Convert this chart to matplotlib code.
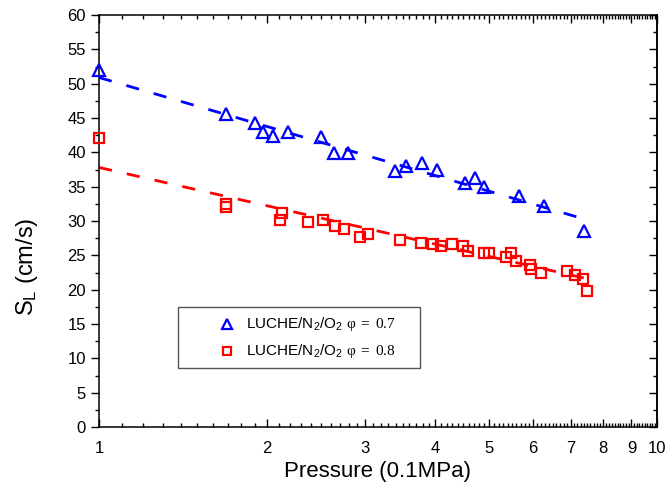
import numpy as np
import matplotlib
matplotlib.use("Agg")
import matplotlib.pyplot as plt
from matplotlib.patches import Rectangle
from matplotlib.ticker import FixedLocator, NullFormatter, MultipleLocator

# --- fonts ---
plt.rcParams['font.family'] = ['Liberation Sans', 'DejaVu Sans']
plt.rcParams['mathtext.fontset'] = 'custom'
plt.rcParams['mathtext.rm'] = 'Liberation Serif'
plt.rcParams['mathtext.it'] = 'Liberation Serif:italic'
plt.rcParams['mathtext.sf'] = 'Liberation Sans'
plt.rcParams['lines.scale_dashes'] = False

# --- data ---
p_07 = [1.0, 1.69, 1.90, 1.97, 2.05, 2.18, 2.50, 2.64, 2.79, 3.39,
        3.55, 3.79, 4.03, 4.53, 4.72, 4.90, 5.67, 6.28, 7.40]
sl_07 = [52.0, 45.6, 44.3, 43.0, 42.4, 42.9, 42.2, 39.9, 39.9, 37.3,
         38.0, 38.4, 37.5, 35.6, 36.2, 34.9, 33.7, 32.2, 28.6]

p_08 = [1.0, 1.69, 1.69, 2.11, 2.13, 2.37, 2.52, 2.65, 2.75, 2.94,
        3.04, 3.46, 3.77, 3.97, 4.10, 4.29, 4.50, 4.58, 4.90, 5.00,
        5.36, 5.47, 5.58, 5.92, 5.95, 6.19, 6.91, 7.13, 7.36, 7.48]
sl_08 = [42.1, 32.5, 32.1, 30.1, 31.2, 29.9, 30.2, 29.3, 28.8, 27.6,
         28.1, 27.2, 26.8, 26.6, 26.4, 26.6, 26.3, 25.7, 25.4, 25.4,
         24.8, 25.4, 24.2, 23.6, 23.0, 22.5, 22.7, 22.1, 21.6, 19.8]

# fitted lines (end points)
fit_p = [1.0, 7.4]
fit_07 = [50.9, 30.3]
fit_08 = [37.8, 21.7]

x_major = [1, 2, 3, 4, 5, 6, 7, 8, 9, 10]
labels = [r'LUCHE/N$_{\mathsf{2}}$/O$_{\mathsf{2}}$ $\mathrm{\varphi\ =\ 0.7}$',
          r'LUCHE/N$_{\mathsf{2}}$/O$_{\mathsf{2}}$ $\mathrm{\varphi\ =\ 0.8}$']

fig = plt.figure(figsize=(6.68, 4.97), dpi=100)
ax = fig.add_axes([0.1482, 0.1408, 0.8353, 0.829])

ax.plot(fit_p, fit_07, color='#0000ff', lw=2.0, dashes=(9.5, 11))
ax.plot(fit_p, fit_08, color='#ff0000', lw=2.0, dashes=(9.5, 11))

ax.plot(p_07, sl_07, ls='none', marker='^', ms=8.5, mfc='none',
        mec='#0000ff', mew=1.6, clip_on=False, zorder=3)
ax.plot(p_08, sl_08, ls='none', marker='s', ms=6.5, mfc='none',
        mec='#ff0000', mew=1.6, clip_on=False, zorder=3)

ax.set_xscale('log')
ax.set_xlim(1, 10)
ax.set_ylim(0, 60)

ax.xaxis.set_major_locator(FixedLocator(x_major))
ax.xaxis.set_major_formatter(plt.FixedFormatter([str(v) for v in x_major]))
minor = [round(a + b / 10, 1) for a in range(1, 10) for b in range(1, 10)]
ax.xaxis.set_minor_locator(FixedLocator(minor))
ax.xaxis.set_minor_formatter(NullFormatter())
ax.yaxis.set_major_locator(MultipleLocator(5))
ax.yaxis.set_minor_locator(MultipleLocator(2.5))

for s in ax.spines.values():
    s.set_linewidth(1.1)

ax.tick_params(axis='x', which='both', direction='in', top=True, labelsize=12, pad=10, width=1.0)
ax.tick_params(axis='x', which='major', length=6)
ax.tick_params(axis='x', which='minor', length=3)
ax.tick_params(axis='y', which='both', direction='out', labelsize=12, width=1.0)
ax.tick_params(axis='y', which='major', length=6)
ax.tick_params(axis='y', which='minor', length=3)

right = ax.secondary_yaxis('right')
right.yaxis.set_major_locator(MultipleLocator(5))
right.yaxis.set_minor_locator(MultipleLocator(2.5))
right.tick_params(which='both', direction='in', labelright=False, width=1.0)
right.tick_params(which='major', length=6)
right.tick_params(which='minor', length=3)
right.spines['right'].set_linewidth(1.1)

ax.set_xlabel('Pressure (0.1MPa)', fontsize=16, labelpad=4)
ax.set_ylabel(r'S$_{\mathsf{L}}$ (cm/s)', fontsize=17, labelpad=10)
ax.yaxis.set_label_coords(-0.105, 0.39)

# legend box drawn by hand (marker offset from text like the original)
box = Rectangle((0.1416, 0.143), 0.4337, 0.148, transform=ax.transAxes,
                fill=True, facecolor='white', edgecolor='#555555', lw=1.0, zorder=4)
ax.add_patch(box)
rows_y = [0.250, 0.184]
ax.plot([0.2294], [rows_y[0]], transform=ax.transAxes, ls='none', marker='^', ms=7,
        mfc='none', mec='#0000ff', mew=1.6, zorder=5)
ax.plot([0.2294], [rows_y[1]], transform=ax.transAxes, ls='none', marker='s', ms=6,
        mfc='none', mec='#ff0000', mew=1.6, zorder=5)
for ry, lab in zip(rows_y, labels):
    ax.text(0.2635, ry, lab, transform=ax.transAxes, fontsize=11,
            va='center', ha='left', zorder=5)

fig.savefig('out.png', dpi=100)
